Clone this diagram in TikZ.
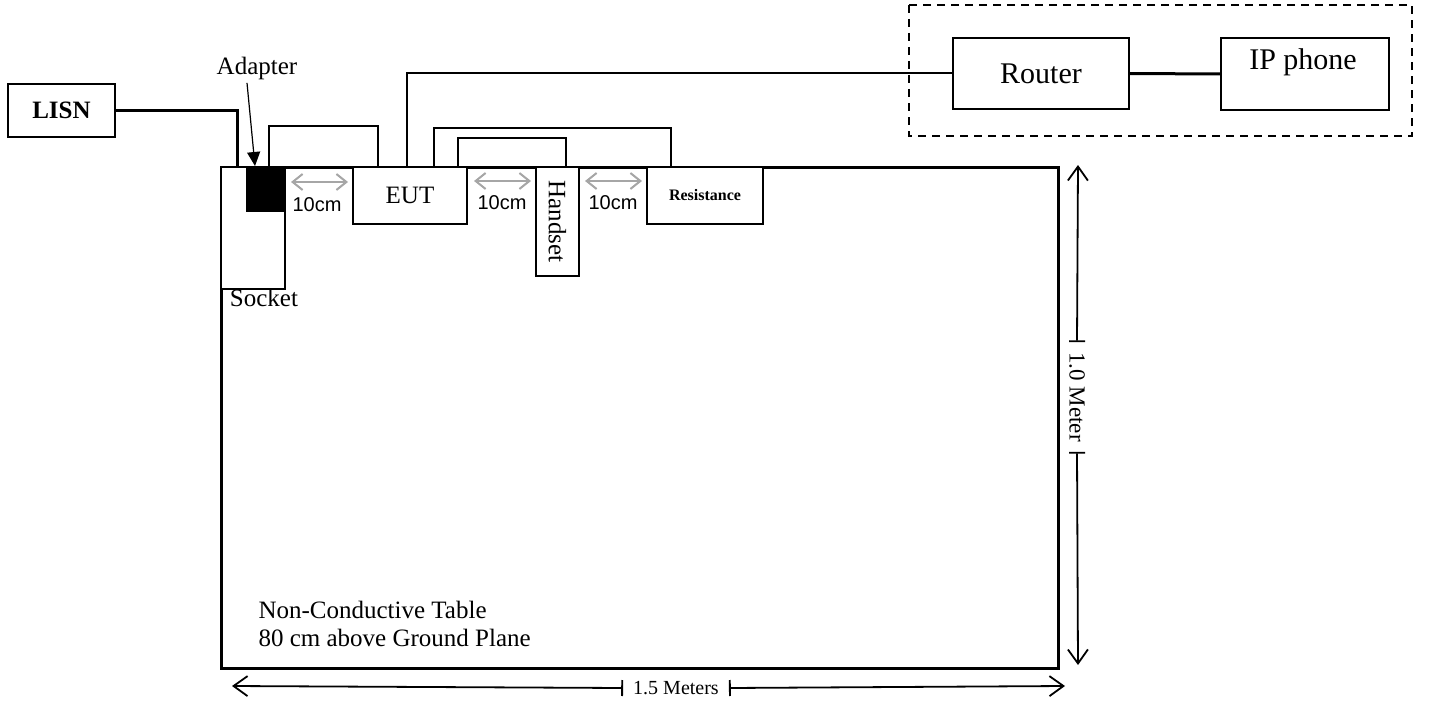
\documentclass[tikz,border=0pt]{standalone}
\usepackage{fontspec}
\usepackage{graphicx}
\setmainfont{Liberation Serif}
\newfontfamily\arialfont{Liberation Sans}
\usetikzlibrary{arrows.meta,calc}

\tikzset{
  box/.style={draw,line width=2pt,inner sep=0pt,anchor=north west,fill=white},
  wire/.style={line width=2pt},
  gapmark/.style={draw=gray!70,line width=2pt,
    {Straight Barb[length=10pt,width=16pt]}-{Straight Barb[length=10pt,width=16pt]}},
  dimline/.style={line width=1.8pt,{Bar[width=16pt]}-{Straight Barb[length=14pt,width=20pt]}},
  txt/.style={font=\fontsize{25}{28}\selectfont},
  cmtxt/.style={font=\arialfont\fontsize{20}{24}\selectfont},
}

\begin{document}
\begin{tikzpicture}[x=1pt,y=-1pt]
  \useasboundingbox (0,0) rectangle (1430,701);
  % table
  \node[draw,line width=3pt,inner sep=0pt,anchor=north west,
        minimum width=837pt,minimum height=501pt] (table) at (220,166) {};
  \node[txt,align=left,anchor=west] (tabletext) at (255,624)
       {Non-Conductive Table\\80 cm above Ground Plane};

  % power side
  \node[box,minimum width=107pt,minimum height=53pt,txt] (lisn) at (7,83) {\bfseries LISN};
  \node[box,minimum width=64pt,minimum height=122pt] (socket) at (220,166) {};
  \node[box,fill=black,minimum width=38pt,minimum height=44pt] (adapter) at (246,166) {};
  \node[txt] (socketlabel) at (264,298) {Socket};
  \node[txt] (adaptlabel) at (257,68) {Adapter};
  \draw[line width=3pt] (lisn.east) -| ($(socket.north west)+(17,0)$);
  \draw[line width=1.2pt,-{Triangle[length=14pt,width=13pt]}]
       ($(adaptlabel.south)+(-10,0)$) -- ($(adapter.north west)+(9,0)$);

  % devices on the table
  \node[box,minimum width=114pt,minimum height=57pt,txt] (eut) at (352,166) {EUT};
  \node[box,minimum width=43pt,minimum height=109pt,txt] (handset) at (535,166)
       {\rotatebox{-90}{Handset}};
  \node[box,minimum width=116pt,minimum height=57pt,
        font=\fontsize{16}{18}\selectfont\bfseries] (res) at (646,166) {Resistance};

  \draw[wire] ($(adapter.north east)+(-17,0)$) -- ++(0,-40) -| ($(eut.north west)+(26,0)$);
  \draw[wire] ($(eut.north east)+(-34,0)$) -- ++(0,-38) -| ($(res.north west)+(25,0)$);
  \draw[wire] ($(eut.north east)+(-10,0)$) -- ++(0,-28) -| ($(handset.north west)+(31,0)$);

  % 10cm gaps
  \draw[gapmark] ($(adapter.north east)+(5,16)$) -- ($(eut.north west)+(-4,16)$);
  \draw[gapmark] ($(eut.north east)+(6,15)$) -- ($(handset.north west)+(-4,15)$);
  \draw[gapmark] ($(handset.north east)+(5,15)$) -- ($(res.north west)+(-4,15)$);
  \node[cmtxt] (gapa) at (317,205) {10cm};
  \node[cmtxt] (gapb) at (502,203) {10cm};
  \node[cmtxt] (gapc) at (613,203) {10cm};

  % network side
  \draw[line width=1.6pt,dash pattern=on 8pt off 6pt] (909,5) rectangle (1412,136);
  \node[box,minimum width=176pt,minimum height=71pt,font=\fontsize{30}{34}\selectfont]
       (router) at (952,37) {Router};
  \node[box,minimum width=168pt,minimum height=72pt] (ipphone) at (1220,37) {};
  \node[font=\fontsize{30}{34}\selectfont] (iptext) at (1303,62) {IP phone};
  \draw[wire] ($(eut.north west)+(55,0)$) |- (router.west);
  \draw[line width=3pt] (router.east) -- (ipphone.west);

  % dimensions
  \node[rotate=-90,inner xsep=10pt,font=\fontsize{23}{26}\selectfont] (vdim) at (1077,397) {1.0 Meter};
  \coordinate (vtop) at (1078,165);
  \coordinate (vbot) at (1078,665);
  \draw[dimline] (vdim.west) -- (vtop);
  \draw[dimline] (vdim.east) -- (vbot);
  \node[inner xsep=10pt,font=\fontsize{20}{22}\selectfont] (hdim) at (676,688) {1.5 Meters};
  \coordinate (hleft) at (232,686);
  \coordinate (hright) at (1065,686);
  \draw[dimline] (hdim.west) -- (hleft);
  \draw[dimline] (hdim.east) -- (hright);
\end{tikzpicture}
\end{document}
